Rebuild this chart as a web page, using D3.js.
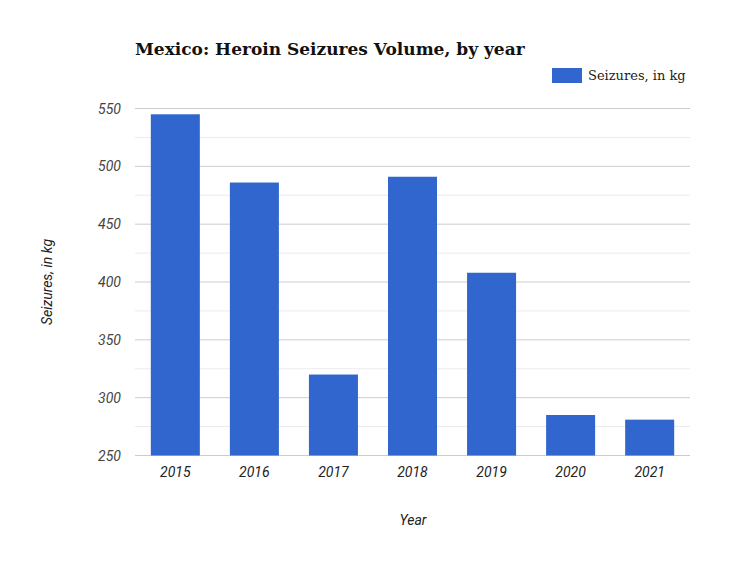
<!DOCTYPE html>
<html><head><meta charset="utf-8">
<script src="https://cdn.jsdelivr.net/npm/d3@7"></script>
<style>body{margin:0;background:#fff}</style>
</head><body>
<svg id="chart" width="750" height="563"></svg>
<script>
const years = ["2015", "2016", "2017", "2018", "2019", "2020", "2021"];
const seizures = [545, 486, 320, 491, 408, 285, 281];
const yTicks = [250, 300, 350, 400, 450, 500, 550];

const margin = {left: 135, right: 690, top: 108.5, bottom: 455.5};
const svg = d3.select("#chart");
const x = d3.scaleBand().domain(years).range([margin.left, margin.right]).paddingInner(0.38).paddingOuter(0.2);
const y = d3.scaleLinear().domain([250, 550]).range([margin.bottom, margin.top]);

// minor grid
svg.append("g").selectAll("line").data(d3.range(275, 551, 50)).join("line")
  .attr("x1", margin.left).attr("x2", margin.right)
  .attr("y1", d => y(d)).attr("y2", d => y(d))
  .attr("stroke", "#ebebeb").attr("stroke-width", 1);
// major grid
svg.append("g").selectAll("line").data(yTicks).join("line")
  .attr("x1", margin.left).attr("x2", margin.right)
  .attr("y1", d => y(d)).attr("y2", d => y(d))
  .attr("stroke", "#cccccc").attr("stroke-width", 1);

svg.append("g").selectAll("rect").data(years).join("rect")
  .attr("x", d => x(d)).attr("width", x.bandwidth())
  .attr("y", (d, i) => y(seizures[i])).attr("height", (d, i) => y(250) - y(seizures[i]))
  .attr("fill", "#3066cd");

const tickFont = "Roboto, sans-serif";
svg.append("g").selectAll("text").data(yTicks).join("text")
  .attr("x", 121).attr("y", d => y(d) + 5).attr("text-anchor", "end")
  .attr("font-family", tickFont).attr("font-style", "italic").attr("font-size", 14).attr("fill", "#444")
  .text(d => d);
svg.append("g").selectAll("text").data(years).join("text")
  .attr("x", d => x(d) + x.bandwidth() / 2).attr("y", 477).attr("text-anchor", "middle")
  .attr("font-family", tickFont).attr("font-style", "italic").attr("font-size", 14).attr("fill", "#222")
  .text(d => d);

svg.append("text").attr("x", 413).attr("y", 525).attr("text-anchor", "middle")
  .attr("font-family", tickFont).attr("font-style", "italic").attr("font-size", 14).attr("fill", "#222")
  .text("Year");
svg.append("text").attr("transform", "translate(52,282) rotate(-90)").attr("text-anchor", "middle")
  .attr("font-family", tickFont).attr("font-style", "italic").attr("font-size", 14).attr("fill", "#222")
  .text("Seizures, in kg");

svg.append("text").attr("x", 135).attr("y", 55)
  .attr("font-family", "DejaVu Serif, serif").attr("font-weight", "bold").attr("font-size", 17).attr("fill", "#111")
  .text("Mexico: Heroin Seizures Volume, by year");

svg.append("rect").attr("x", 552).attr("y", 68).attr("width", 30).attr("height", 15).attr("fill", "#3066cd");
svg.append("text").attr("x", 588).attr("y", 80)
  .attr("font-family", "DejaVu Serif, serif").attr("font-size", 13).attr("fill", "#222")
  .text("Seizures, in kg");
</script>
</body></html>
